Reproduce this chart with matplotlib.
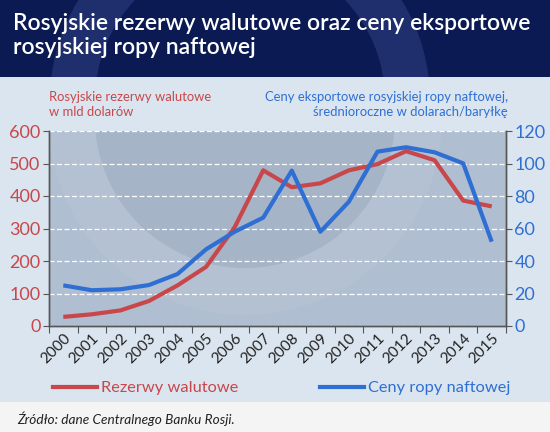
import numpy as np
import matplotlib
matplotlib.use('Agg')
import matplotlib.pyplot as plt
from matplotlib.patches import Rectangle, Circle, Wedge
from matplotlib.lines import Line2D
from matplotlib.transforms import IdentityTransform

plt.rcParams['font.family'] = ['Lato', 'DejaVu Sans']

years = [str(y) for y in range(2000, 2016)]
reserves = [28, 36, 48, 77, 125, 182, 304, 479, 427, 439, 479, 498, 538, 510, 386, 368]
oil_price = [25.0, 22.0, 22.6, 25.2, 32.0, 47.2, 58.0, 66.7, 95.6, 58.0, 76.5, 107.3, 110.0, 106.9, 100.1, 51.9]

RED = '#c8474b'
BLUE = '#2f6fd3'
W, H = 550, 432

fig = plt.figure(figsize=(W / 100, H / 100), dpi=100)
fig.patch.set_facecolor('#f4f4f4')

# tła: pasek tytułu, pierścień dekoracyjny, obszar wykresu
cx, cy = 240, H - 100
title_bg = Rectangle((0, 1 - 77 / H), 1, 77 / H, transform=fig.transFigure,
                     facecolor='#0b1a52', edgecolor='none', zorder=-10)
ring = Wedge((cx, cy), 190, 0, 360, width=45, transform=IdentityTransform(),
             facecolor='#1f2f6e', edgecolor='none', zorder=-9)
chart_bg = Rectangle((0, (H - 402) / H), 1, (402 - 77) / H, transform=fig.transFigure,
                     facecolor='#dae5ef', edgecolor='none', zorder=-8)
fig.patches.extend([title_bg, ring, chart_bg])

fig.text(13 / W, 1 - 13 / H, 'Rosyjskie rezerwy walutowe oraz ceny eksportowe\nrosyjskiej ropy naftowej',
         color='white', fontsize=16.5, fontweight='semibold', va='top', ha='left', linespacing=1.2)

fig.text(49 / W, 1 - 91 / H, 'Rosyjskie rezerwy walutowe\nw mld dolarów', color=RED,
         fontsize=9.4, va='top', ha='left', linespacing=1.25)
fig.text(508 / W, 1 - 91 / H, 'Ceny eksportowe rosyjskiej ropy naftowej,\nśrednioroczne w dolarach/baryłkę',
         color=BLUE, fontsize=9.4, va='top', ha='right', multialignment='right', linespacing=1.25)

ax = fig.add_axes([49 / W, (H - 326) / H, 457 / W, 195 / H])
ax.set_facecolor('#afbed0')
x = np.arange(len(years))

ax.add_patch(Wedge((245, H - 118), 197, 0, 360, width=47, transform=IdentityTransform(),
                   facecolor='white', edgecolor='none', alpha=0.05, zorder=0))
ax.add_patch(Circle((245, H - 118), 150, transform=IdentityTransform(),
                    facecolor='#8e9fb5', edgecolor='none', alpha=0.3, zorder=0))

ax.plot(x, reserves, color=RED, lw=3, zorder=3, solid_capstyle='butt')
ax.set_xlim(-0.5, len(years) - 0.5)
ax.set_ylim(0, 600)
ax.set_yticks(range(0, 601, 100))
ax.yaxis.grid(True, color='white', ls=(0, (4, 2)), lw=0.9)
ax.set_axisbelow(True)

ax.set_xticks(np.arange(-0.5, len(years), 1))
ax.set_xticklabels([])
ax.set_xticks(x, minor=True)
ax.set_xticklabels(years, minor=True, rotation=45, ha='right', rotation_mode='anchor',
                   fontsize=11, color='#222222')
ax.tick_params(axis='x', which='minor', length=0, pad=4)
ax.tick_params(axis='x', which='major', length=5, color='#555555', direction='out')
ax.tick_params(axis='y', labelcolor=RED, labelsize=13, length=4, color='#555555', pad=2)

ax2 = ax.twinx()
ax2.plot(x, oil_price, color=BLUE, lw=3, zorder=3, solid_capstyle='butt')
ax2.set_ylim(0, 120)
ax2.set_yticks(range(0, 121, 20))
ax2.tick_params(axis='y', labelcolor=BLUE, labelsize=13, length=4, color='#555555', pad=2)

for a in (ax, ax2):
    a.spines['top'].set_visible(False)
    for s in ('left', 'right', 'bottom'):
        a.spines[s].set_color('#555555')
        a.spines[s].set_linewidth(1)

handles = [Line2D([], [], color=RED, lw=3), Line2D([], [], color=BLUE, lw=3)]
fig.legend(handles[:1], ['Rezerwy walutowe'], loc='center left', bbox_to_anchor=(38 / W, 1 - 388 / H),
           frameon=False, fontsize=11.8, handlelength=2.7, handletextpad=0.25, labelcolor=RED)
fig.legend(handles[1:], ['Ceny ropy naftowej'], loc='center left', bbox_to_anchor=(305 / W, 1 - 388 / H),
           frameon=False, fontsize=11.8, handlelength=2.7, handletextpad=0.25, labelcolor=BLUE)

fig.text(17 / W, 1 - 419 / H, 'Źródło: dane Centralnego Banku Rosji.', color='#222222',
         fontsize=9.8, style='italic', va='center', ha='left')

fig.savefig('out.png', dpi=100, facecolor=fig.get_facecolor())
